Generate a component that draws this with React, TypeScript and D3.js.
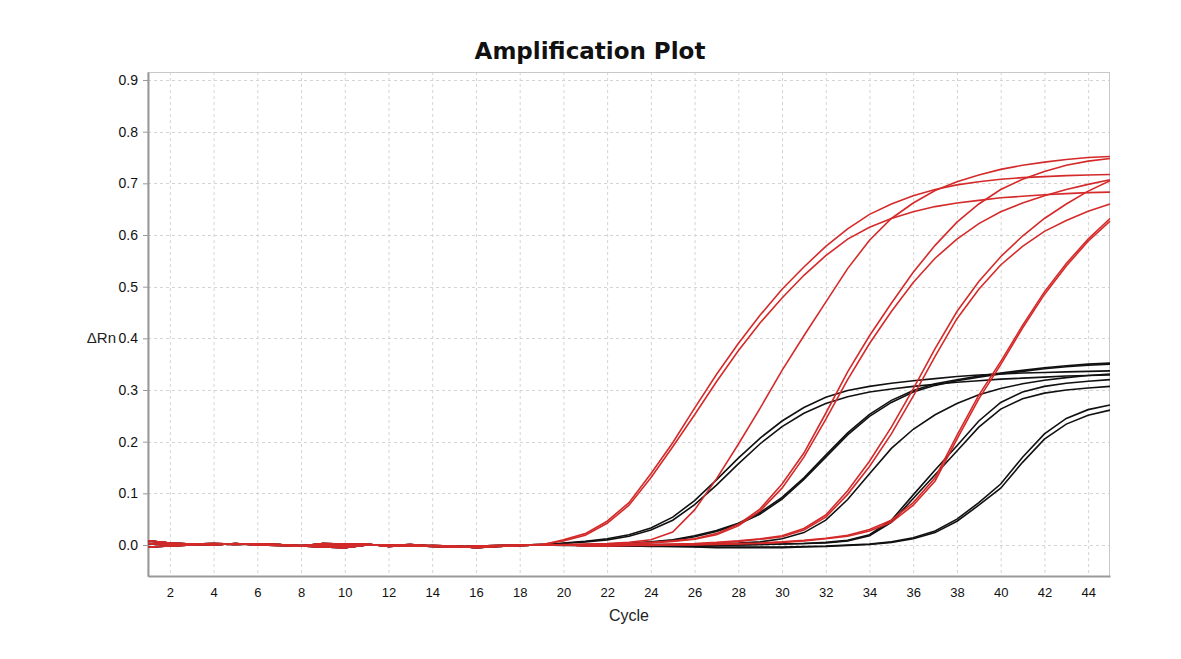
import React, { useEffect, useRef } from 'react';
import * as d3 from 'd3';

// cycles 1..45
const cycles = d3.range(1, 46);

// flat baseline readings, cycles 1..19
const baseA = [0.008, 0.004, 0.002, 0.003, 0.002, 0.002, 0.0, -0.001, 0.0, -0.002, 0.001, -0.001, 0.001, -0.002, -0.003, -0.004, -0.002, -0.001, 0.0];
const baseB = [-0.004, -0.002, 0.0, 0.002, 0.001, 0.002, 0.001, -0.002, 0.003, 0.002, 0.002, -0.003, -0.001, -0.003, -0.004, -0.002, -0.001, 0.0, 0.001];
const baseC = [0.003, 0.001, 0.002, 0.0, 0.003, 0.0, -0.001, -0.002, -0.004, -0.005, 0.0, 0.0, -0.002, -0.001, -0.002, -0.005, -0.003, -0.001, 0.0];

// readings for cycles 20..45
const red1a = [0.010, 0.022, 0.046, 0.082, 0.138, 0.198, 0.265, 0.330, 0.390, 0.445, 0.495, 0.538, 0.578, 0.612, 0.640, 0.660, 0.676, 0.688, 0.697, 0.703, 0.708, 0.711, 0.713, 0.715, 0.716, 0.717];
const red1b = [0.008, 0.019, 0.042, 0.077, 0.130, 0.190, 0.252, 0.316, 0.376, 0.430, 0.478, 0.522, 0.560, 0.592, 0.615, 0.632, 0.645, 0.655, 0.662, 0.667, 0.672, 0.675, 0.678, 0.680, 0.682, 0.683];
const red2 = [0.001, 0.002, 0.003, 0.005, 0.010, 0.025, 0.068, 0.128, 0.195, 0.265, 0.338, 0.405, 0.470, 0.535, 0.590, 0.632, 0.662, 0.686, 0.703, 0.716, 0.727, 0.735, 0.741, 0.746, 0.750, 0.752];
const red3a = [0.000, 0.001, 0.002, 0.003, 0.005, 0.008, 0.012, 0.022, 0.040, 0.070, 0.118, 0.178, 0.255, 0.335, 0.405, 0.468, 0.528, 0.580, 0.625, 0.660, 0.688, 0.708, 0.723, 0.735, 0.743, 0.748];
const red3b = [0.000, 0.000, 0.001, 0.002, 0.004, 0.007, 0.011, 0.020, 0.037, 0.066, 0.110, 0.170, 0.243, 0.320, 0.390, 0.452, 0.508, 0.555, 0.592, 0.622, 0.645, 0.662, 0.676, 0.688, 0.698, 0.707];
const red4a = [0.000, 0.000, -0.001, 0.000, 0.001, 0.002, 0.003, 0.005, 0.008, 0.012, 0.018, 0.032, 0.058, 0.105, 0.162, 0.228, 0.302, 0.380, 0.452, 0.510, 0.558, 0.598, 0.632, 0.660, 0.685, 0.705];
const red4b = [0.000, -0.001, -0.001, 0.000, 0.000, 0.001, 0.002, 0.004, 0.007, 0.011, 0.016, 0.029, 0.054, 0.098, 0.152, 0.215, 0.288, 0.365, 0.438, 0.495, 0.542, 0.578, 0.607, 0.628, 0.646, 0.660];
const red5a = [0.000, -0.001, -0.002, -0.001, 0.000, 0.000, 0.001, 0.002, 0.003, 0.004, 0.006, 0.009, 0.013, 0.019, 0.030, 0.048, 0.082, 0.130, 0.212, 0.290, 0.355, 0.425, 0.490, 0.545, 0.592, 0.632];
const red5b = [0.000, -0.002, -0.002, -0.001, -0.001, 0.000, 0.000, 0.001, 0.002, 0.003, 0.005, 0.008, 0.012, 0.017, 0.027, 0.044, 0.077, 0.124, 0.205, 0.283, 0.349, 0.420, 0.485, 0.540, 0.588, 0.627];

const black1a = [0.004, 0.007, 0.012, 0.020, 0.033, 0.054, 0.086, 0.126, 0.168, 0.207, 0.240, 0.266, 0.286, 0.299, 0.307, 0.313, 0.318, 0.322, 0.326, 0.329, 0.331, 0.333, 0.334, 0.335, 0.336, 0.337];
const black1b = [0.003, 0.006, 0.010, 0.017, 0.029, 0.048, 0.078, 0.116, 0.157, 0.196, 0.229, 0.255, 0.274, 0.287, 0.296, 0.302, 0.307, 0.311, 0.315, 0.318, 0.321, 0.323, 0.325, 0.327, 0.328, 0.329];
const black2a = [0.000, 0.001, 0.002, 0.004, 0.006, 0.010, 0.018, 0.028, 0.042, 0.063, 0.092, 0.130, 0.174, 0.217, 0.253, 0.280, 0.299, 0.312, 0.320, 0.327, 0.333, 0.338, 0.343, 0.347, 0.350, 0.352];
const black2b = [0.000, 0.000, 0.001, 0.003, 0.005, 0.009, 0.016, 0.026, 0.040, 0.060, 0.089, 0.127, 0.170, 0.213, 0.249, 0.276, 0.296, 0.309, 0.318, 0.325, 0.331, 0.336, 0.341, 0.345, 0.348, 0.350];
const black3 = [-0.001, -0.001, 0.000, 0.000, 0.001, 0.001, 0.002, 0.003, 0.004, 0.006, 0.012, 0.024, 0.048, 0.088, 0.138, 0.187, 0.224, 0.252, 0.274, 0.291, 0.303, 0.312, 0.319, 0.324, 0.328, 0.331];
const black4a = [0.000, -0.001, -0.001, -0.002, -0.002, -0.001, -0.001, 0.000, 0.000, 0.001, 0.002, 0.003, 0.005, 0.009, 0.020, 0.048, 0.097, 0.145, 0.192, 0.240, 0.276, 0.296, 0.307, 0.313, 0.317, 0.320];
const black4b = [0.000, -0.001, -0.002, -0.002, -0.002, -0.002, -0.001, -0.001, 0.000, 0.001, 0.002, 0.003, 0.004, 0.008, 0.018, 0.044, 0.090, 0.136, 0.182, 0.228, 0.263, 0.283, 0.294, 0.300, 0.304, 0.307];
const black5a = [0.000, -0.001, -0.001, -0.002, -0.002, -0.003, -0.003, -0.004, -0.004, -0.004, -0.004, -0.003, -0.002, 0.000, 0.002, 0.006, 0.014, 0.027, 0.050, 0.082, 0.118, 0.170, 0.215, 0.245, 0.262, 0.271];
const black5b = [0.000, -0.001, -0.002, -0.002, -0.003, -0.003, -0.004, -0.005, -0.005, -0.005, -0.005, -0.004, -0.003, -0.001, 0.001, 0.005, 0.012, 0.024, 0.046, 0.077, 0.110, 0.160, 0.205, 0.234, 0.251, 0.261];

const blackCurves = [
  [...baseC, ...black1a], [...baseA, ...black1b], [...baseB, ...black2a], [...baseC, ...black2b],
  [...baseA, ...black3], [...baseB, ...black4a], [...baseC, ...black4b], [...baseA, ...black5a], [...baseB, ...black5b],
];
const redCurves = [
  [...baseA, ...red1a], [...baseB, ...red1b], [...baseC, ...red2], [...baseA, ...red3a], [...baseB, ...red3b],
  [...baseC, ...red4a], [...baseA, ...red4b], [...baseB, ...red5a], [...baseC, ...red5b],
];

const xTicks = d3.range(2, 45, 2);
const yTicks = [0, 0.1, 0.2, 0.3, 0.4, 0.5, 0.6, 0.7, 0.8, 0.9];

const width = 1181;
const height = 659;
const margin = { top: 72, right: 71, bottom: 83, left: 148 };

const AmplificationPlot: React.FC = () => {
  const svgRef = useRef<SVGSVGElement | null>(null);

  useEffect(() => {
    if (!svgRef.current) return;
    const svg = d3.select(svgRef.current);
    svg.selectAll('*').remove();

    const x = d3.scaleLinear().domain([1, 45]).range([margin.left, width - margin.right]);
    const y = d3.scaleLinear().domain([-0.06, 0.9155]).range([height - margin.bottom, margin.top]);
    const font = '"Liberation Sans", Arial, sans-serif';

    svg.append('rect').attr('width', width).attr('height', height).attr('fill', '#fff');

    // title
    svg.append('text')
      .attr('x', 590).attr('y', 59)
      .attr('text-anchor', 'middle')
      .attr('font-family', '"DejaVu Sans", Verdana, sans-serif')
      .attr('font-weight', 'bold')
      .attr('font-size', 23)
      .attr('fill', '#111')
      .text('Amplification Plot');

    // grid
    const grid = svg.append('g').attr('stroke', '#d4d4d4').attr('stroke-dasharray', '3,3').attr('stroke-width', 1);
    grid.selectAll('line.v').data(xTicks).join('line')
      .attr('x1', d => x(d) + 0.5).attr('x2', d => x(d) + 0.5)
      .attr('y1', margin.top).attr('y2', height - margin.bottom);
    grid.selectAll('line.h').data(yTicks).join('line')
      .attr('x1', margin.left).attr('x2', width - margin.right)
      .attr('y1', d => Math.round(y(d)) + 0.5).attr('y2', d => Math.round(y(d)) + 0.5);

    // frame
    svg.append('rect')
      .attr('x', margin.left).attr('y', margin.top + 0.5)
      .attr('width', width - margin.right - margin.left - 0.5)
      .attr('height', height - margin.bottom - margin.top)
      .attr('fill', 'none').attr('stroke', '#c8c8c8');

    // axes
    const yAxis = svg.append('g')
      .attr('transform', `translate(${margin.left},0)`)
      .call(d3.axisLeft(y).tickValues(yTicks).tickFormat(d3.format('.1f')).tickSize(5).tickSizeOuter(0));
    yAxis.select('.domain').attr('stroke', '#999').attr('stroke-width', 2);
    yAxis.selectAll('.tick line').attr('stroke', '#999');
    yAxis.selectAll('text').attr('font-family', font).attr('font-size', 14).attr('fill', '#111').attr('dx', -2);

    const xAxis = svg.append('g')
      .attr('transform', `translate(0,${height - margin.bottom})`)
      .call(d3.axisBottom(x).tickValues(xTicks).tickSize(0).tickSizeOuter(0).tickPadding(12));
    xAxis.select('.domain').attr('stroke', '#999').attr('stroke-width', 2);
    xAxis.selectAll('text').attr('font-family', font).attr('font-size', 13).attr('fill', '#111');

    // axis titles
    svg.append('text')
      .attr('x', 629).attr('y', 621)
      .attr('text-anchor', 'middle')
      .attr('font-family', font).attr('font-size', 16).attr('fill', '#222')
      .text('Cycle');
    svg.append('text')
      .attr('x', 116).attr('y', 343)
      .attr('text-anchor', 'end')
      .attr('font-family', font).attr('font-size', 15).attr('fill', '#222')
      .text('ΔRn');

    // curves
    const line = d3.line<number>()
      .x((_, i) => x(cycles[i]))
      .y(d => y(d));

    const plot = svg.append('g');
    plot.selectAll('path.black').data(blackCurves).join('path')
      .attr('fill', 'none').attr('stroke', '#111').attr('stroke-width', 1.6)
      .attr('d', d => line(d));
    plot.selectAll('path.red').data(redCurves).join('path')
      .attr('fill', 'none').attr('stroke', '#d42a2a').attr('stroke-width', 1.6)
      .attr('d', d => line(d));
  }, []);

  return <svg ref={svgRef} width={width} height={height} style={{ position: 'absolute', left: 0, top: 0 }} />;
};

export default function App() {
  return <AmplificationPlot />;
}
